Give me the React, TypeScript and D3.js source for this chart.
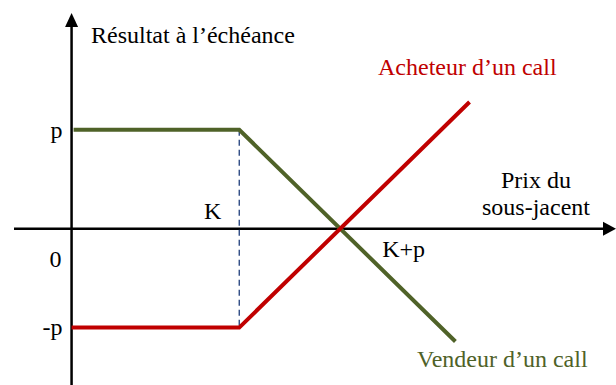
import React from 'react'
import * as d3 from 'd3'

// payoff at expiry, premium p = 1, strike K
const strike = 1.66
const premium = 1

const buyerPrice = [0, strike, 3.94]
const buyerPayoff = [-1, -1, 1.28]

const sellerPrice = [0.02, strike, 3.8]
const sellerPayoff = [1, 1, -1.14]

const yTickValues = [premium, 0, -premium]
const yTickLabels = ['p', '0', '-p']
const xTickValues = [strike, strike + premium]
const xTickLabels = ['K', 'K+p']

const W = 616
const H = 385
const RED = '#c00000'
const GREEN = '#4f6228'
const FONT = "'Liberation Serif', 'DejaVu Serif', serif"

export default function App() {
  const x = d3.scaleLinear().domain([-0.57, 5.39]).range([14, 616])
  const y = d3.scaleLinear().domain([-1.58, 2.18]).range([385, 13])

  const line = d3.line<[number, number]>()
    .x(d => x(d[0]))
    .y(d => y(d[1]))

  const buyer = buyerPrice.map((s, i) => [s, buyerPayoff[i]] as [number, number])
  const seller = sellerPrice.map((s, i) => [s, sellerPayoff[i]] as [number, number])

  const x0 = x(0)
  const y0 = y(0)
  const [xl, xr] = x.range()
  const [yb, yt] = y.range()

  return (
    <svg width={W} height={H} style={{ position: 'absolute', left: 0, top: 0, fontFamily: FONT, fontSize: 24 }}>
      <rect width={W} height={H} fill="#fff" />

      {/* axes */}
      <line x1={xl} y1={y0} x2={xr - 12} y2={y0} stroke="#000" strokeWidth={2.5} />
      <path d={`M${xr},${y0} L${xr - 13},${y0 - 7} L${xr - 13},${y0 + 7} Z`} fill="#000" />
      <line x1={x0} y1={yb} x2={x0} y2={yt + 12} stroke="#000" strokeWidth={2.5} />
      <path d={`M${x0},${yt} L${x0 - 6.5},${yt + 14} L${x0 + 6.5},${yt + 14} Z`} fill="#000" />

      {/* strike guide */}
      <line x1={x(strike)} y1={y(premium)} x2={x(strike)} y2={y(-premium)}
        stroke="#1f3d7a" strokeWidth={1.3} strokeDasharray="6,4" />

      <path d={line(seller) || ''} fill="none" stroke={GREEN} strokeWidth={4} />
      <path d={line(buyer) || ''} fill="none" stroke={RED} strokeWidth={4} />

      {/* y tick labels */}
      <text x={x0 - 9} y={y(yTickValues[0]) + 8} textAnchor="end">{yTickLabels[0]}</text>
      <text x={x0 - 10} y={y(yTickValues[1]) + 38} textAnchor="end">{yTickLabels[1]}</text>
      <text x={x0 - 9} y={y(yTickValues[2]) + 7} textAnchor="end">{yTickLabels[2]}</text>

      {/* x tick labels */}
      <text x={x(xTickValues[0]) - 18} y={y0 - 10} textAnchor="end">{xTickLabels[0]}</text>
      <text x={x(xTickValues[1]) + 42} y={y0 + 28}>{xTickLabels[1]}</text>

      <text x={91} y={43}>Résultat à l’échéance</text>
      <text x={536} y={188} textAnchor="middle">Prix du</text>
      <text x={536} y={215} textAnchor="middle">sous-jacent</text>
      <text x={378} y={75} fill={RED}>Acheteur d’un call</text>
      <text x={417} y={367} fill={GREEN}>Vendeur d’un call</text>
    </svg>
  )
}
